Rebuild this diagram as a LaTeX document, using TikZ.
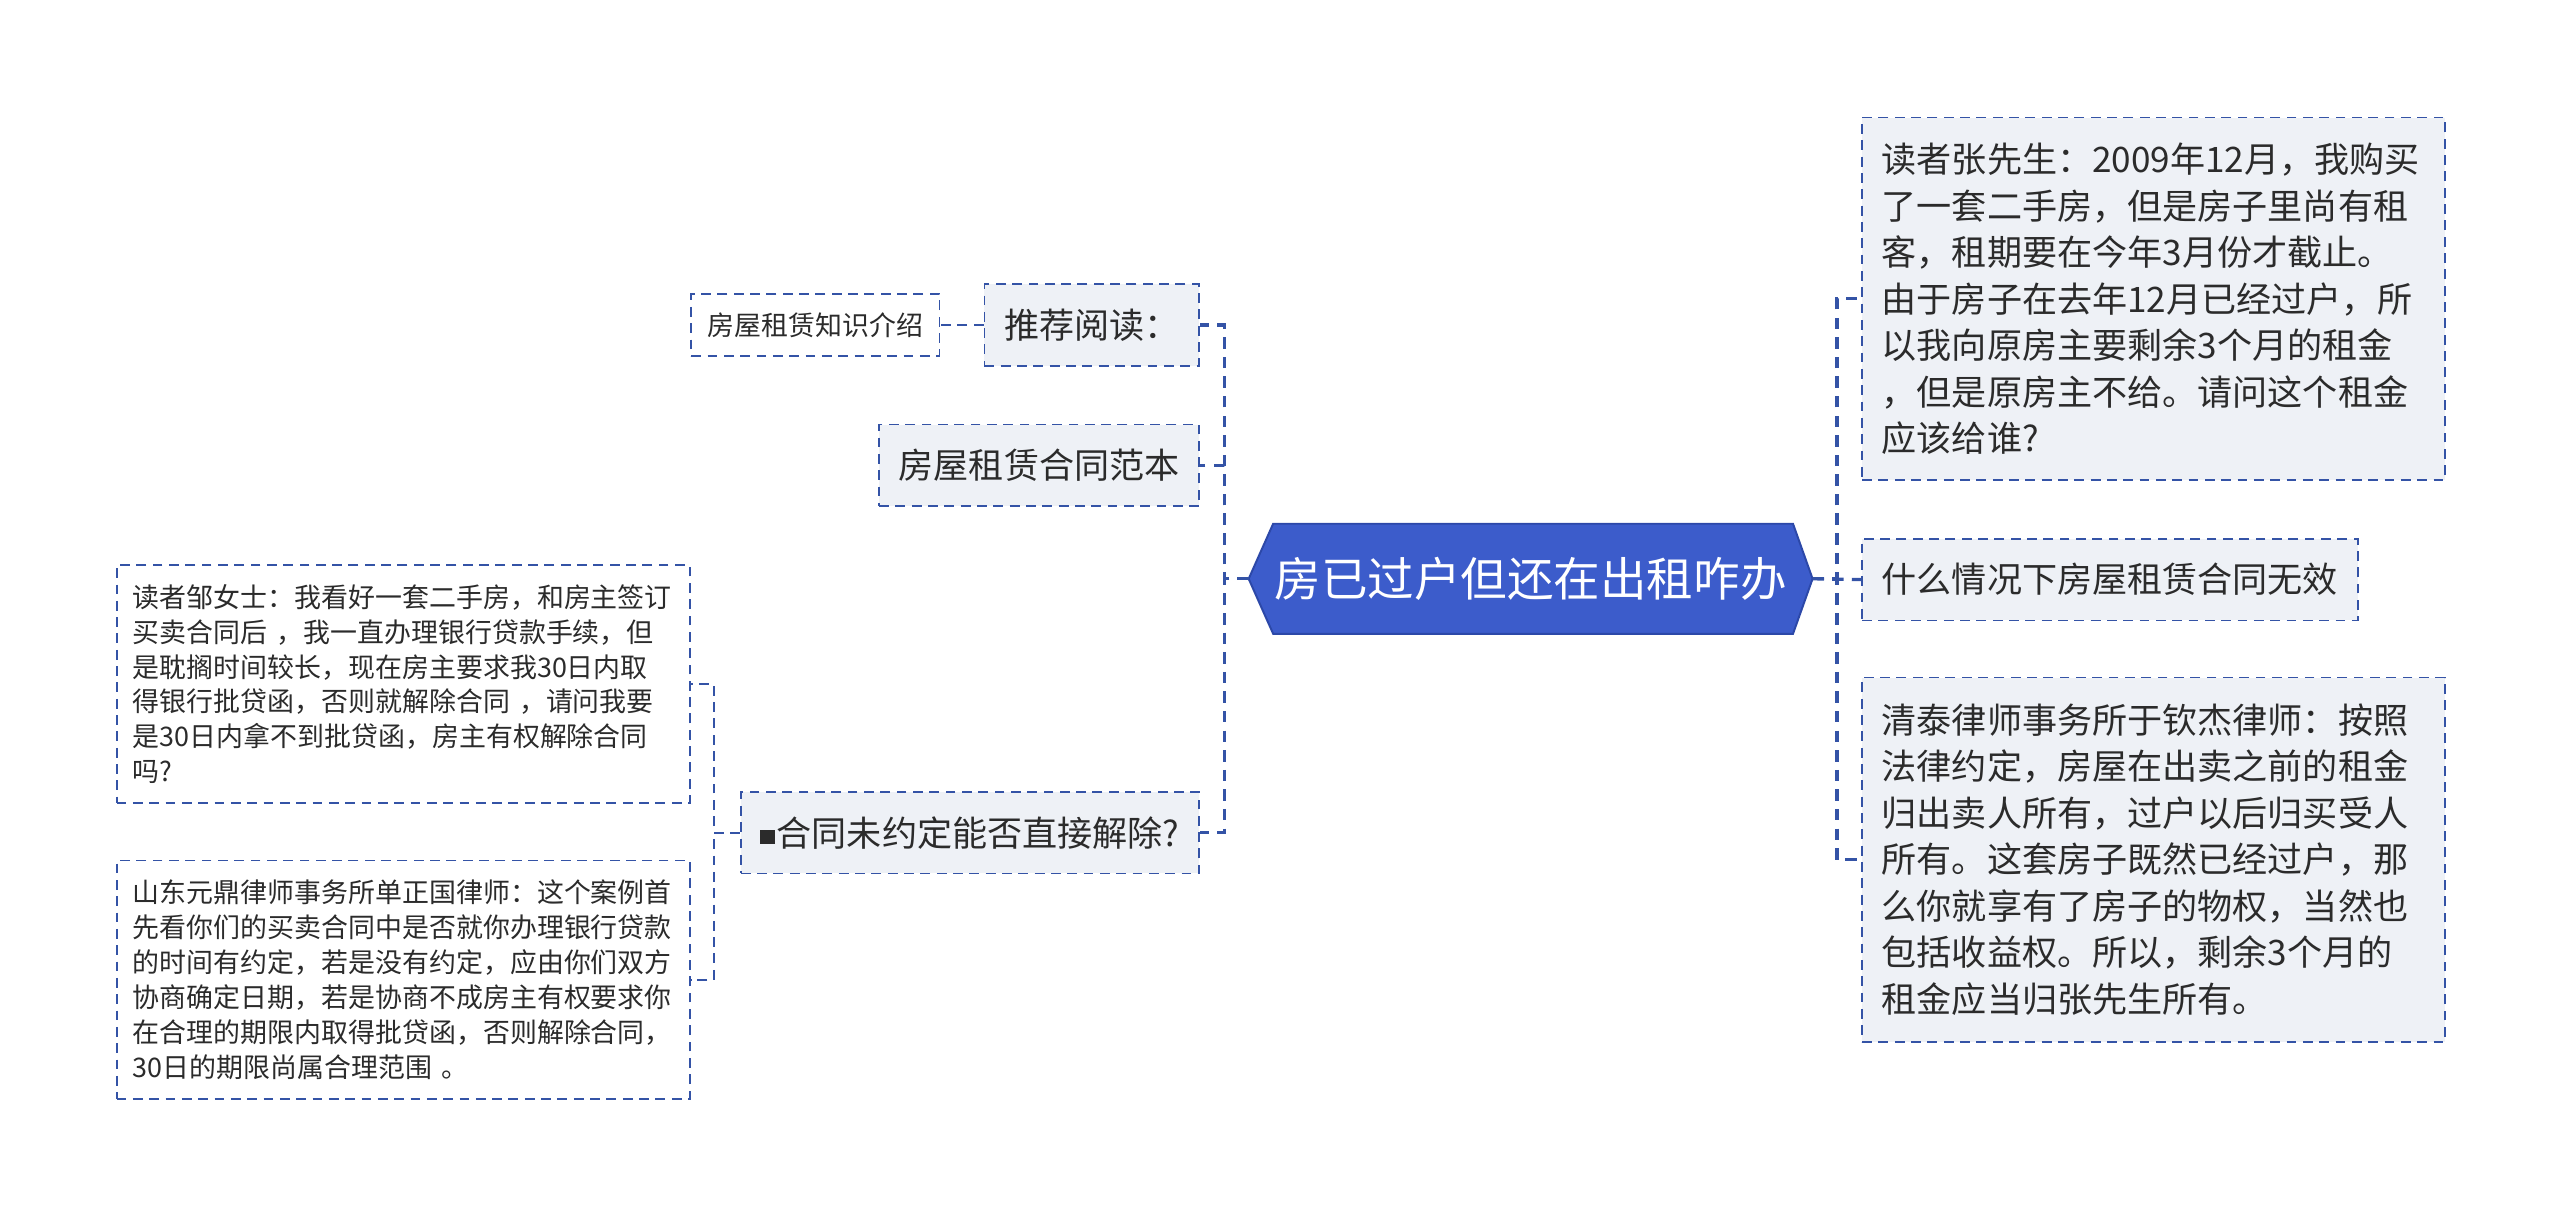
\documentclass[tikz,border=0pt]{standalone}
\usepackage{fontspec}
\setmainfont{Noto Sans CJK SC}
\usetikzlibrary{calc,backgrounds}
\definecolor{edgeblue}{HTML}{3453A6}
\definecolor{rootfill}{HTML}{3C5CCB}
\definecolor{rootedge}{HTML}{2C48A8}
\definecolor{lightfill}{HTML}{EEF1F6}
\definecolor{textcol}{HTML}{2B2B2B}
\begin{document}
\begin{tikzpicture}[x=1pt,y=-1pt,
  box/.style={draw=edgeblue, line width=1.1pt, dash pattern=on 6pt off 4pt,
    fill=lightfill, inner ysep=0pt, inner xsep=12pt, text=textcol,
    font=\fontsize{21.5}{28.5}\selectfont},
  smallbox/.style={box, fill=white, inner xsep=10pt,
    font=\fontsize{16.5}{21.4}\selectfont},
  conn/.style={draw=edgeblue, line width=2pt, dash pattern=on 7pt off 5pt},
  subconn/.style={draw=edgeblue, line width=1.3pt, dash pattern=on 6pt off 4pt},
]
\useasboundingbox (0,0) rectangle (1568,745);

% root
\node[minimum width=345pt, minimum height=67pt, inner sep=0pt, text=white,
  font=\fontsize{28.5}{34}\selectfont] (root) at (937.5,354.5) {房已过户但还在出租咋办};
\begin{scope}[on background layer]
\draw[fill=rootfill, draw=rootedge, line width=1.2pt]
  (root.west) -- ($(root.north west)+(15,0)$) -- ($(root.north east)+(-12,0)$)
  -- (root.east) -- ($(root.south east)+(-12,0)$) -- ($(root.south west)+(15,0)$) -- cycle;
\end{scope}

% right side
\node[box, anchor=west, text width=333pt, align=left, minimum height=222pt] (R1) at (1140,183) {读者张先生：2009年12月，我购买\\了一套二手房，但是房子里尚有租\\客，租期要在今年3月份才截止。\\由于房子在去年12月已经过户，所\\以我向原房主要剩余3个月的租金\\，但是原房主不给。请问这个租金\\应该给谁?};
\node[box, anchor=west, minimum height=50pt] (R2) at (1140,355) {什么情况下房屋租赁合同无效};
\node[box, anchor=west, text width=333pt, align=left, minimum height=223pt] (R3) at (1140,526.5) {清泰律师事务所于钦杰律师：按照\\法律约定，房屋在出卖之前的租金\\归出卖人所有，过户以后归买受人\\所有。这套房子既然已经过户，那\\么你就享有了房子的物权，当然也\\包括收益权。所以，剩余3个月的\\租金应当归张先生所有。};

% left side
\node[box, anchor=east, minimum height=50pt] (L1) at (735,199) {推荐阅读：};
\node[smallbox, anchor=east, minimum height=38pt] (L1a) at (576,199) {房屋租赁知识介绍};
\node[box, anchor=east, minimum height=50pt] (L2) at (735,285) {房屋租赁合同范本};
\node[box, anchor=east, minimum height=50pt] (L3) at (735,510) {\rule[1pt]{9pt}{9pt}\hspace{1pt}合同未约定能否直接解除?};
\node[smallbox, anchor=east, text width=331pt, align=left, minimum height=146pt] (L3a) at (423,419) {读者邹女士：我看好一套二手房，和房主签订\\买卖合同后 ，我一直办理银行贷款手续，但\\是耽搁时间较长，现在房主要求我30日内取\\得银行批贷函，否则就解除合同 ，请问我要\\是30日内拿不到批贷函，房主有权解除合同\\吗?};
\node[smallbox, anchor=east, text width=331pt, align=left, minimum height=146pt] (L3b) at (423,600) {山东元鼎律师事务所单正国律师：这个案例首\\先看你们的买卖合同中是否就你办理银行贷款\\的时间有约定，若是没有约定，应由你们双方\\协商确定日期，若是协商不成房主有权要求你\\在合理的期限内取得批贷函，否则解除合同，\\30日的期限尚属合理范围 。};

% connectors
\draw[conn] (root.east) -- (R2.west);
\draw[conn] (root.east) -- ++(15,0) |- (R1.west);
\draw[conn] (root.east) -- ++(15,0) |- (R3.west);
\draw[conn] (root.west) -- ++(-15,0) |- (L1.east);
\draw[conn] (root.west) -- ++(-15,0) |- (L2.east);
\draw[conn] (root.west) -- ++(-15,0) |- (L3.east);
\draw[subconn] (L1.west) -- (L1a.east);
\draw[subconn] (L3.west) -- ++(-16,0) |- (L3a.east);
\draw[subconn] (L3.west) -- ++(-16,0) |- (L3b.east);
\end{tikzpicture}
\end{document}
